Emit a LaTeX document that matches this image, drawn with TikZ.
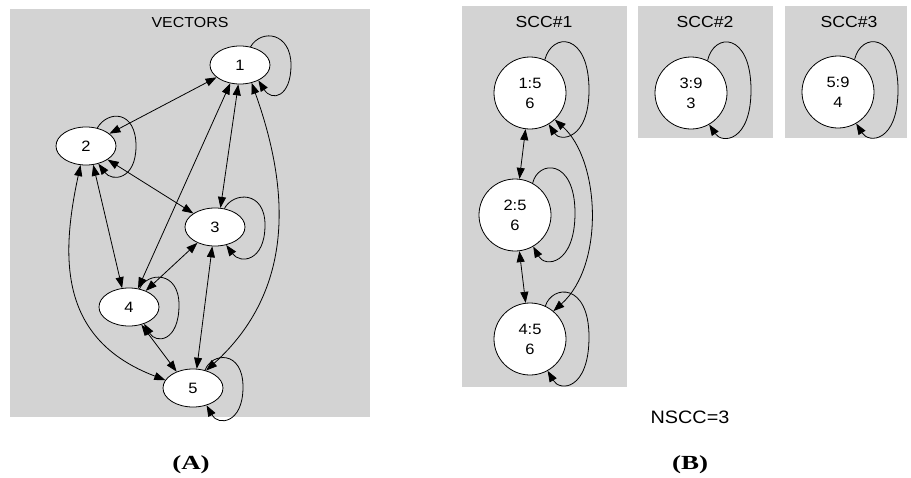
\documentclass[tikz,border=0pt]{standalone}
\usepackage{fontspec}
\setmainfont{Liberation Sans}[FakeStretch=1.1]
\newfontfamily\capfont{Liberation Serif}[FakeStretch=1.35]
\usetikzlibrary{shapes.geometric,arrows.meta}
\definecolor{boxgray}{HTML}{D3D3D3}
\begin{document}
\begin{tikzpicture}[x=1pt,y=-1pt,
  >={Triangle[length=11pt,width=8pt]},
  line width=0.8pt,
  panel/.style={fill=boxgray,draw=none},
  vnode/.style={ellipse,draw,fill=white,minimum width=60pt,minimum height=38pt,inner sep=0pt,font=\fontsize{15}{16}\selectfont},
  snode/.style={circle,draw,fill=white,minimum size=72pt,inner sep=0pt,align=center,font=\fontsize{15}{20}\selectfont},
  ttl/.style={font=\fontsize{14.5}{16}\selectfont},
  sttl/.style={font=\fontsize{16}{18}\selectfont},
  bi/.style={<->},
  uni/.style={->},
  captext/.style={font=\capfont\bfseries\fontsize{20}{22}\selectfont}
]
\useasboundingbox (0,0) rectangle (911,477);
% panels
\fill[panel] (10,9) rectangle (370,417);
\fill[panel] (462,6) rectangle (627,387);
\fill[panel] (638,6) rectangle (773,138);
\fill[panel] (785,6) rectangle (907,138);
% titles
\node[ttl] (tA) at (190,23) {VECTORS};
\node[sttl] (t1) at (544,22) {SCC\#1};
\node[sttl] (t2) at (705,22) {SCC\#2};
\node[sttl] (t3) at (849,22) {SCC\#3};
% panel A nodes
\node[vnode] (n1) at (240,65) {1};
\node[vnode] (n2) at (86,146) {2};
\node[vnode] (n3) at (215,227) {3};
\node[vnode] (n4) at (129,307) {4};
\node[vnode] (n5) at (193,388) {5};
% panel A edges
\draw[bi] (n2) -- (n1);
\draw[bi] (n2) -- (n3);
\draw[bi] (n1.265) -- (n3.74);
\draw[bi] (n1.242) -- (n4.64);
\draw[bi] (n2.291) -- (n4.110);
\draw[bi] (n3.222) -- (n4.44);
\draw[bi] (n3.262) -- (n5.79);
\draw[bi] (n4.305) -- (n5.135);
\draw[bi] (n2.254) .. controls (60,260) and (60,340) .. (n5.164);
\draw[bi] (n1.303) .. controls (290,190) and (295,290) .. (n5.53);
% panel A loops
\draw[uni] (n1.60) .. controls (262,28) and (291,33) .. (291,65) .. controls (291,97) and (272,102) .. (n1.-40);
\draw[uni] (n2.58) .. controls (108,110) and (136,110) .. (136,146) .. controls (136,180) and (112,182) .. (n2.-55);
\draw[uni] (n3.63) .. controls (233,192) and (265,190) .. (265,225) .. controls (265,262) and (240,264) .. (n3.-58);
\draw[uni] (n4.60) .. controls (147,272) and (179,270) .. (179,305) .. controls (179,342) and (156,344) .. (n4.-48);
\draw[uni] (n5.56) .. controls (212,352) and (243,350) .. (243,387) .. controls (243,424) and (218,426) .. (n5.-52);
% panel B nodes
\node[snode] (c15) at (530,93) {1:5\\6};
\node[snode] (c25) at (515,215) {2:5\\6};
\node[snode] (c45) at (530,339) {4:5\\6};
\node[snode] (c39) at (691,93) {3:9\\3};
\node[snode] (c59) at (838,92) {5:9\\4};
% panel B edges
\draw[bi] (c15) -- (c25);
\draw[bi] (c25) -- (c45);
\draw[bi] (c15.-47) .. controls (600,160) and (605,265) .. (c45.50);
% panel B loops
\draw[uni] (c15.66) .. controls (552,32) and (589,32) .. (589,90) .. controls (589,140) and (560,142) .. (c15.-59);
\draw[uni] (c25.61) .. controls (538,160) and (575,158) .. (575,213) .. controls (575,265) and (545,268) .. (c25.-60);
\draw[uni] (c45.65) .. controls (552,285) and (589,282) .. (589,337) .. controls (589,390) and (560,392) .. (c45.-61);
\draw[uni] (c39.63) .. controls (714,32) and (751,32) .. (751,90) .. controls (751,142) and (722,144) .. (c39.-60);
\draw[uni] (c59.63) .. controls (861,32) and (898,32) .. (898,90) .. controls (898,142) and (869,144) .. (c59.-60);
% bottom texts
\node[font=\fontsize{18}{20}\selectfont] (ns) at (690,417) {NSCC=3};
\node[captext] (capA) at (191,465) {(A)};
\node[captext] (capB) at (690,465) {(B)};
\end{tikzpicture}
\end{document}
